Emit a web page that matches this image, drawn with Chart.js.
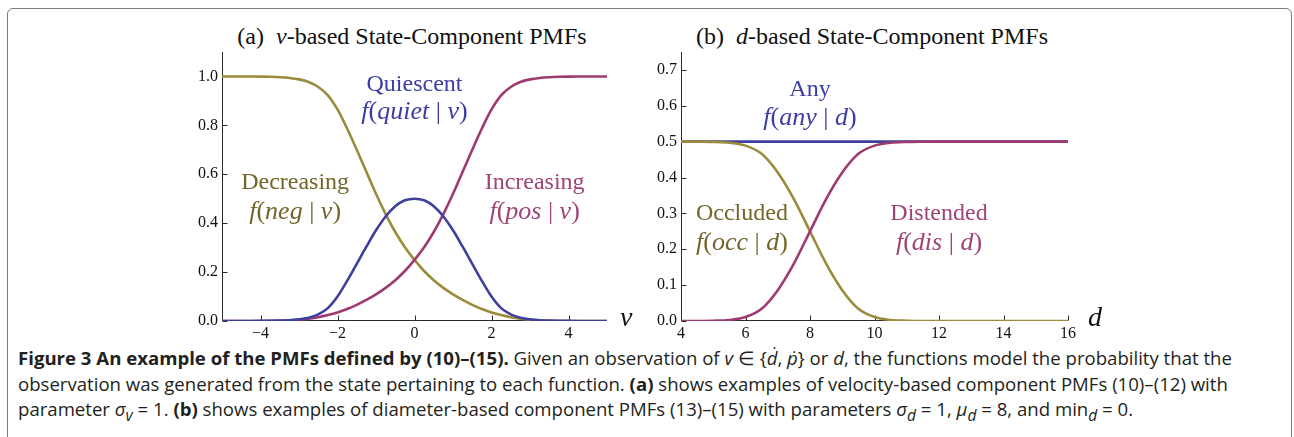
<!DOCTYPE html>
<html>
<head>
<meta charset="utf-8">
<script src="https://cdn.jsdelivr.net/npm/chart.js@4.4.0/dist/chart.umd.min.js"></script>
<style>
body { margin: 0; background: #fff; }
#page { position: relative; width: 1294px; height: 437px; overflow: hidden; background: #fff; }
#frame { position: absolute; left: 7px; top: 8px; width: 1283px; height: 480px; border: 1.5px solid #7c7c7c; border-radius: 6px; }
.plot { position: absolute; top: 0; }
.ttl { position: absolute; top: 23px; font: 24px 'Liberation Serif', serif; color: #111; white-space: nowrap; transform: translateX(-50%); }
.cap { position: absolute; left: 18px; font: 18.6px 'Open Sans', sans-serif; color: #231f20; white-space: nowrap; line-height: 22px; }
.cap b { font-weight: 700; }
</style>
</head>
<body>
<div id="page">
  <div id="frame"></div>
  <div class="ttl" style="left:412px">(a)&nbsp; <i>v</i>-based State-Component PMFs</div>
  <div class="ttl" style="left:872px">(b)&nbsp; <i>d</i>-based State-Component PMFs</div>
  <canvas id="vChart" class="plot" width="500" height="345" style="left:140px"></canvas>
  <canvas id="dChart" class="plot" width="475" height="345" style="left:645px"></canvas>
  <div class="cap" style="top:347px"><b>Figure 3 An example of the PMFs defined by (10)–(15).</b> Given an observation of <i>v</i> ∈ {<i>ḋ</i>, <i>ṗ</i>} or <i>d</i>, the functions model the probability that the</div>
  <div class="cap" style="top:372.5px">observation was generated from the state pertaining to each function. <b>(a)</b> shows examples of velocity-based component PMFs (10)–(12) with</div>
  <div class="cap" style="top:398px">parameter <i>σ<sub>v</sub></i> = 1. <b>(b)</b> shows examples of diameter-based component PMFs (13)–(15) with parameters <i>σ<sub>d</sub></i> = 1, <i>μ<sub>d</sub></i> = 8, and min<sub><i>d</i></sub> = 0.</div>
</div>
<script>
// v-based PMFs (v = -5 .. 5, step 0.25)
const vValues = [-5, -4.75, -4.5, -4.25, -4, -3.75, -3.5, -3.25, -3, -2.75, -2.5, -2.25, -2, -1.75, -1.5, -1.25, -1, -0.75, -0.5, -0.25,
    0, 0.25, 0.5, 0.75, 1, 1.25, 1.5, 1.75, 2, 2.25, 2.5, 2.75, 3, 3.25, 3.5, 3.75, 4, 4.25, 4.5, 4.75, 5];
const quietV = [0, 0, 0, 0.0001, 0.0004, 0.001, 0.0018, 0.0032, 0.0066, 0.0133, 0.0273, 0.0528, 0.0999, 0.164, 0.234, 0.304, 0.371, 0.4275, 0.469, 0.4935,
    0.5, 0.4935, 0.469, 0.4275, 0.371, 0.304, 0.234, 0.164, 0.0999, 0.0528, 0.0273, 0.0133, 0.0066, 0.0032, 0.0018, 0.001, 0.0004, 0.0001, 0, 0, 0];
const negV = [1, 1, 1, 0.9999, 0.9995, 0.9986, 0.997, 0.994, 0.988, 0.977, 0.957, 0.923, 0.865, 0.787, 0.70, 0.61, 0.52, 0.437, 0.364, 0.302,
    0.25, 0.2045, 0.167, 0.1355, 0.109, 0.086, 0.066, 0.049, 0.0351, 0.0242, 0.0157, 0.0097, 0.0054, 0.0028, 0.0012, 0.0004, 0.0001, 0, 0, 0, 0];
const posV = [0, 0, 0, 0, 0.0001, 0.0004, 0.0012, 0.0028, 0.0054, 0.0097, 0.0157, 0.0242, 0.0351, 0.049, 0.066, 0.086, 0.109, 0.1355, 0.167, 0.2045,
    0.25, 0.302, 0.364, 0.437, 0.52, 0.61, 0.70, 0.787, 0.865, 0.923, 0.957, 0.977, 0.988, 0.994, 0.997, 0.9986, 0.9995, 0.9999, 1, 1, 1];
const vTicksX = [-4, -2, 0, 2, 4];
const vTicksY = [0, 0.2, 0.4, 0.6, 0.8, 1.0];

// d-based PMFs
const dValues = [4, 4.5, 5, 5.5, 6, 6.5, 7, 7.5, 8, 8.5, 9, 9.5, 10, 10.5, 11, 11.5, 12, 12.5, 13, 13.5, 14, 14.5, 15, 15.5, 16];
const anyD = [0.5, 0.5, 0.5, 0.5, 0.5, 0.5, 0.5, 0.5, 0.5, 0.5, 0.5, 0.5, 0.5, 0.5, 0.5, 0.5, 0.5, 0.5, 0.5, 0.5, 0.5, 0.5, 0.5, 0.5, 0.5];
const occD = [0.5, 0.4999, 0.4993, 0.497, 0.489, 0.466, 0.414, 0.34, 0.25, 0.16, 0.086, 0.034, 0.011, 0.003, 0.0007, 0.0001, 0, 0, 0, 0, 0, 0, 0, 0, 0];
const disD = [0, 0.0001, 0.0007, 0.003, 0.011, 0.034, 0.086, 0.16, 0.25, 0.34, 0.414, 0.466, 0.489, 0.497, 0.4993, 0.4999, 0.5, 0.5, 0.5, 0.5, 0.5, 0.5, 0.5, 0.5, 0.5];
const dTicksX = [4, 6, 8, 10, 12, 14, 16];
const dTicksY = [0, 0.1, 0.2, 0.3, 0.4, 0.5, 0.6, 0.7];

const OLIVE = '#9b8b3c', BLUE = '#3f3f9e', MAGENTA = '#9d3b70';
const SERIF = "'Liberation Serif', 'Times New Roman', serif";

function points(xs, ys) {
    return xs.map((x, i) => ({ x: x, y: ys[i] }));
}

function lineSet(xs, ys, color) {
    return {
        data: points(xs, ys),
        borderColor: color,
        borderWidth: 2.6,
        pointRadius: 0,
        cubicInterpolationMode: 'monotone',
        fill: false
    };
}

function minus(v) {
    return v < 0 ? '\u2212' + Math.abs(v) : String(v);
}

// draws a string made of upright / italic pieces, centred on cx
function drawParts(ctx, parts, cx, cy, size) {
    const widths = parts.map(p => {
        ctx.font = (p[1] ? 'italic ' : '') + size + 'px ' + SERIF;
        return ctx.measureText(p[0]).width;
    });
    let x = cx - widths.reduce((a, b) => a + b, 0) / 2;
    parts.forEach((p, i) => {
        ctx.font = (p[1] ? 'italic ' : '') + size + 'px ' + SERIF;
        ctx.fillText(p[0], x, cy);
        x += widths[i];
    });
}

// Mathematica-style axes: ticks point into the plot, curve labels sit in data space
const pmfDecor = {
    id: 'pmfDecor',
    beforeDatasetsDraw(chart, args, opts) {
        const { ctx, chartArea: a, scales: { x, y } } = chart;
        ctx.save();
        ctx.strokeStyle = '#2a2a2a';
        ctx.lineWidth = 1;
        ctx.beginPath();
        const bx = Math.round(a.left) + 0.5, by = Math.round(a.bottom) - 0.5;
        ctx.moveTo(bx, a.top);
        ctx.lineTo(bx, by);
        ctx.lineTo(a.right, by);
        x.ticks.forEach(t => {
            const px = Math.round(x.getPixelForValue(t.value)) + 0.5;
            ctx.moveTo(px, by);
            ctx.lineTo(px, by - 5);
        });
        y.ticks.forEach(t => {
            const py = Math.round(y.getPixelForValue(t.value)) + 0.5;
            ctx.moveTo(bx, py);
            ctx.lineTo(bx + 5, py);
        });
        ctx.stroke();
        ctx.restore();
    },
    afterDraw(chart, args, opts) {
        const { ctx, chartArea: a, scales: { x, y } } = chart;
        ctx.save();
        ctx.textBaseline = 'middle';
        opts.labels.forEach(l => {
            ctx.fillStyle = l.color;
            drawParts(ctx, [[l.name, 0]], x.getPixelForValue(l.x), y.getPixelForValue(l.y1), 24);
            drawParts(ctx, l.math, x.getPixelForValue(l.x), y.getPixelForValue(l.y2), 26);
        });
        ctx.fillStyle = '#111';
        ctx.textAlign = 'left';
        ctx.font = 'italic 28px ' + SERIF;
        ctx.fillText(opts.axisName, a.right + opts.axisGap, a.bottom - 2);
        ctx.restore();
    }
};

function axes(xMin, xMax, xTicks, yMax, yTicks, yWidth) {
    return {
        x: {
            type: 'linear', min: xMin, max: xMax,
            grid: { display: false, drawTicks: false }, border: { display: false },
            afterBuildTicks: s => { s.ticks = xTicks.map(v => ({ value: v })); },
            afterFit: s => { s.height = 24; },
            ticks: { color: '#111', padding: 3, font: { family: SERIF, size: 16 }, callback: v => minus(v), maxRotation: 0 }
        },
        y: {
            type: 'linear', min: 0, max: yMax,
            grid: { display: false, drawTicks: false }, border: { display: false },
            afterBuildTicks: s => { s.ticks = yTicks.map(v => ({ value: v })); },
            afterFit: s => { s.width = yWidth; },
            ticks: { color: '#111', padding: 4, font: { family: SERIF, size: 16 }, callback: v => v.toFixed(1) }
        }
    };
}

// v-based State-Component PMFs
new Chart(document.getElementById('vChart').getContext('2d'), {
    type: 'line',
    data: {
        datasets: [
            lineSet(vValues, quietV, BLUE),
            lineSet(vValues, posV, MAGENTA),
            lineSet(vValues, negV, OLIVE)
        ]
    },
    options: {
        responsive: false,
        animation: false,
        events: [],
        layout: { padding: { left: 0, right: 33, top: 52, bottom: 0 } },
        scales: axes(-5, 5, vTicksX, 1.1, vTicksY, 82),
        plugins: {
            legend: { display: false },
            tooltip: { enabled: false },
            pmfDecor: {
                axisName: 'v',
                axisGap: 13,
                labels: [
                    { name: 'Quiescent', x: 0, y1: 0.967, y2: 0.852, color: '#3c3ca6',
                      math: [['f', 1], ['(', 0], ['quiet', 1], [' | ', 0], ['v', 1], [')', 0]] },
                    { name: 'Decreasing', x: -3.1, y1: 0.565, y2: 0.446, color: '#73662a',
                      math: [['f', 1], ['(', 0], ['neg', 1], [' | ', 0], ['v', 1], [')', 0]] },
                    { name: 'Increasing', x: 3.12, y1: 0.565, y2: 0.446, color: '#a04478',
                      math: [['f', 1], ['(', 0], ['pos', 1], [' | ', 0], ['v', 1], [')', 0]] }
                ]
            }
        }
    },
    plugins: [pmfDecor]
});

// d-based State-Component PMFs
new Chart(document.getElementById('dChart').getContext('2d'), {
    type: 'line',
    data: {
        datasets: [
            lineSet(dValues, disD, MAGENTA),
            lineSet(dValues, occD, OLIVE),
            lineSet(dValues, anyD, BLUE)
        ]
    },
    options: {
        responsive: false,
        animation: false,
        events: [],
        layout: { padding: { left: 0, right: 52, top: 52, bottom: 0 } },
        scales: axes(4, 16, dTicksX, 0.75, dTicksY, 36),
        plugins: {
            legend: { display: false },
            tooltip: { enabled: false },
            pmfDecor: {
                axisName: 'd',
                axisGap: 20,
                labels: [
                    { name: 'Any', x: 8, y1: 0.645, y2: 0.566, color: '#3c3ca6',
                      math: [['f', 1], ['(', 0], ['any', 1], [' | ', 0], ['d', 1], [')', 0]] },
                    { name: 'Occluded', x: 5.89, y1: 0.298, y2: 0.217, color: '#73662a',
                      math: [['f', 1], ['(', 0], ['occ', 1], [' | ', 0], ['d', 1], [')', 0]] },
                    { name: 'Distended', x: 12, y1: 0.298, y2: 0.217, color: '#a04478',
                      math: [['f', 1], ['(', 0], ['dis', 1], [' | ', 0], ['d', 1], [')', 0]] }
                ]
            }
        }
    },
    plugins: [pmfDecor]
});
</script>
</body>
</html>
